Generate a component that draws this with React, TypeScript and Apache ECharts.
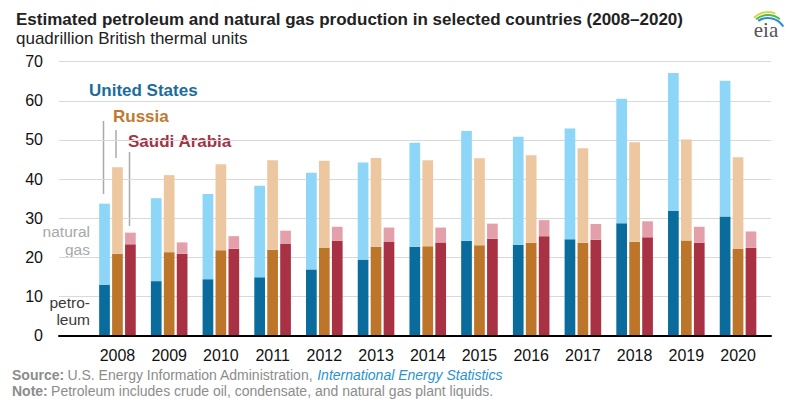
import React, { useEffect, useRef } from "react";
import * as echarts from "echarts";

const years = ["2008", "2009", "2010", "2011", "2012", "2013", "2014", "2015", "2016", "2017", "2018", "2019", "2020"];
const usPetroleum = [13.0, 13.9, 14.4, 14.9, 16.9, 19.4, 22.7, 24.2, 23.2, 24.6, 28.7, 31.8, 30.4];
const usGas = [20.7, 21.2, 21.8, 23.4, 24.7, 24.8, 26.6, 28.1, 27.6, 28.3, 31.8, 35.3, 34.7];
const ruPetroleum = [20.9, 21.3, 21.8, 21.9, 22.4, 22.7, 22.8, 23.1, 23.7, 23.7, 24.0, 24.3, 22.1];
const ruGas = [22.1, 19.7, 22.0, 22.9, 22.3, 22.7, 22.0, 22.2, 22.4, 24.2, 25.4, 25.8, 23.5];
const saPetroleum = [23.3, 20.9, 22.2, 23.4, 24.2, 23.9, 23.8, 24.7, 25.4, 24.5, 25.1, 23.7, 22.4];
const saGas = [3.0, 2.9, 3.2, 3.4, 3.6, 3.7, 3.8, 3.9, 4.1, 4.0, 4.1, 4.1, 4.2];
const yTicks = [0, 10, 20, 30, 40, 50, 60, 70];

const FONT = "Liberation Sans, Arial, sans-serif";

export default function App() {
  const ref = useRef<HTMLDivElement>(null);
  useEffect(() => {
    if (!ref.current) return;
    const chart = echarts.init(ref.current, null, { renderer: "svg" });
    const top = 61.7;
    const bottom = 399 - 335.5;
    const barW = 10.7;
    const mk = (name: string, data: number[], stack: string, color: string) => ({
      name,
      type: "bar",
      data,
      stack,
      xAxisIndex: 1,
      yAxisIndex: 1,
      barWidth: barW,
      barGap: "21%",
      itemStyle: { color },
      silent: true,
    });
    chart.setOption({
      animation: false,
      textStyle: { fontFamily: FONT },
      grid: [
        { left: 59, right: 29, top, bottom },
        { left: 91.6, right: 36.1, top, bottom },
      ],
      xAxis: [
        {
          gridIndex: 0,
          type: "value",
          min: 0,
          max: 1,
          axisLine: { show: true, lineStyle: { color: "#000", width: 2 } },
          axisTick: { show: false },
          axisLabel: { show: false },
          splitLine: { show: false },
          z: 5,
        },
        {
          gridIndex: 1,
          type: "category",
          data: years,
          axisLine: { show: false },
          axisTick: { show: false },
          axisLabel: { color: "#111", fontSize: 16, margin: 12, fontFamily: FONT },
        },
      ],
      yAxis: [
        {
          gridIndex: 0,
          type: "value",
          min: yTicks[0],
          max: yTicks[yTicks.length - 1],
          interval: 10,
          axisLine: { show: false },
          axisTick: { show: false },
          axisLabel: { color: "#111", fontSize: 16, margin: 16, fontFamily: FONT },
          splitLine: { lineStyle: { color: "#d9d9d9", width: 1 } },
        },
        {
          gridIndex: 1,
          type: "value",
          min: 0,
          max: 70,
          show: false,
          splitLine: { show: false },
        },
      ],
      series: [
        mk("US petroleum", usPetroleum, "us", "#0a6c9c"),
        mk("US natural gas", usGas, "us", "#8dd6f7"),
        mk("Russia petroleum", ruPetroleum, "ru", "#bd7529"),
        mk("Russia natural gas", ruGas, "ru", "#ecc7a0"),
        mk("Saudi Arabia petroleum", saPetroleum, "sa", "#a83144"),
        mk("Saudi Arabia natural gas", saGas, "sa", "#e3a0ab"),
      ],
      graphic: [
        {
          type: "text",
          x: 16,
          y: 19,
          style: {
            text: "Estimated petroleum and natural gas production in selected countries (2008\u20132020)",
            font: "bold 17px " + FONT,
            fill: "#222",
            verticalAlign: "middle",
          },
        },
        {
          type: "text",
          x: 16,
          y: 38,
          style: { text: "quadrillion British thermal units", font: "17px " + FONT, fill: "#222", verticalAlign: "middle" },
        },
        { type: "text", x: 89, y: 90, style: { text: "United States", font: "bold 17px " + FONT, fill: "#1c6d9b", verticalAlign: "middle" } },
        { type: "text", x: 113, y: 116, style: { text: "Russia", font: "bold 17px " + FONT, fill: "#bf7a31", verticalAlign: "middle" } },
        { type: "text", x: 128, y: 141, style: { text: "Saudi Arabia", font: "bold 17px " + FONT, fill: "#a23447", verticalAlign: "middle" } },
        { type: "line", shape: { x1: 103.5, y1: 121, x2: 103.5, y2: 194 }, style: { stroke: "#aaaaaa", lineWidth: 1.5 } },
        { type: "line", shape: { x1: 116, y1: 130, x2: 116, y2: 158 }, style: { stroke: "#aaaaaa", lineWidth: 1.5 } },
        { type: "line", shape: { x1: 129.5, y1: 152, x2: 129.5, y2: 226 }, style: { stroke: "#aaaaaa", lineWidth: 1.5 } },
        { type: "text", x: 90, y: 231, style: { text: "natural", font: "15.5px " + FONT, fill: "#a8a8a8", align: "right", verticalAlign: "middle" } },
        { type: "text", x: 90, y: 249, style: { text: "gas", font: "15.5px " + FONT, fill: "#a8a8a8", align: "right", verticalAlign: "middle" } },
        { type: "text", x: 90, y: 302.5, style: { text: "petro-", font: "15.5px " + FONT, fill: "#3a3a3a", align: "right", verticalAlign: "middle" } },
        { type: "text", x: 90, y: 319.5, style: { text: "leum", font: "15.5px " + FONT, fill: "#3a3a3a", align: "right", verticalAlign: "middle" } },
        {
          type: "text",
          x: 12,
          y: 375,
          style: {
            text: "{b|Source:} {n|U.S. Energy Information Administration, }{i|International Energy Statistics}",
            verticalAlign: "middle",
            rich: {
              b: { font: "bold 14px " + FONT, fill: "#8c8c8c" },
              n: { font: "14px " + FONT, fill: "#8c8c8c" },
              i: { font: "italic 14px " + FONT, fill: "#2b92cf" },
            },
          },
        },
        {
          type: "text",
          x: 12,
          y: 391,
          style: {
            text: "{b|Note:} {n|Petroleum includes crude oil, condensate, and natural gas plant liquids.}",
            verticalAlign: "middle",
            rich: {
              b: { font: "bold 14px " + FONT, fill: "#8c8c8c" },
              n: { font: "14px " + FONT, fill: "#8c8c8c" },
            },
          },
        },
        { type: "arc", shape: { cx: 768, cy: 32, r: 20, startAngle: -2.35, endAngle: -1.2 }, style: { stroke: "#d9d64a", lineWidth: 2, fill: "none" } },
        { type: "arc", shape: { cx: 768, cy: 34, r: 19, startAngle: -2.25, endAngle: -0.9 }, style: { stroke: "#52b94a", lineWidth: 2, fill: "none" } },
        { type: "arc", shape: { cx: 768, cy: 36, r: 18, startAngle: -2.15, endAngle: -0.55 }, style: { stroke: "#2b8ed0", lineWidth: 2, fill: "none" } },
        { type: "text", x: 766, y: 30, style: { text: "eia", font: "21px Liberation Serif, serif", fill: "#555", align: "center", verticalAlign: "middle" } },
      ],
    });
    return () => chart.dispose();
  }, []);
  return <div ref={ref} style={{ width: 800, height: 399, position: "absolute", left: 0, top: 0 }} />;
}
